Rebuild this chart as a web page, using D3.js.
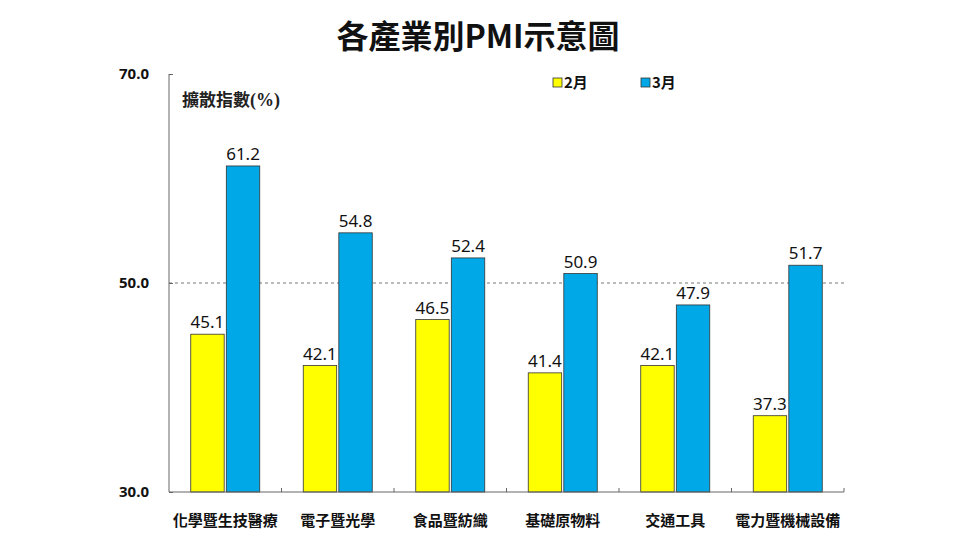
<!DOCTYPE html>
<html>
<head>
<meta charset="utf-8">
<script src="https://cdn.jsdelivr.net/npm/d3@7"></script>
<style>
  body { margin: 0; background: #fff; }
  svg { display: block; }
</style>
</head>
<body>
<svg id="chart" width="960" height="540"></svg>
<script>
// chart data
var categories = ["化學暨生技醫療", "電子暨光學", "食品暨紡織", "基礎原物料", "交通工具", "電力暨機械設備"];
var seriesNames = ["2月", "3月"];
var febValues = [45.1, 42.1, 46.5, 41.4, 42.1, 37.3];
var marValues = [61.2, 54.8, 52.4, 50.9, 47.9, 51.7];
var yTicks = [30, 50, 70];
var colors = ["#ffff00", "#00a8e8"];

var svg = d3.select("#chart");
var cjk = "'Noto Sans CJK TC', 'Noto Sans', sans-serif";

var x0 = d3.scaleBand().domain(categories).range([169, 844]);
var x1 = d3.scaleBand().domain(seriesNames).range([0, 69]).paddingInner(0.06);
var y = d3.scaleLinear().domain([30, 70]).range([492, 74]);

// title
svg.append("text")
  .attr("x", 478).attr("y", 48)
  .attr("text-anchor", "middle")
  .style("font-family", cjk).style("font-size", "32px").style("font-weight", "bold")
  .style("fill", "#111")
  .text("各產業別PMI示意圖");

// dashed 50 line
svg.append("line")
  .attr("x1", x0.range()[0]).attr("x2", x0.range()[1])
  .attr("y1", y(50)).attr("y2", y(50))
  .style("stroke", "#777").style("stroke-width", 1).style("stroke-dasharray", "3,3");

// bars
var groups = svg.selectAll("g.grp").data(categories).enter().append("g")
  .attr("class", "grp")
  .attr("transform", function(d) { return "translate(" + (x0(d) + (x0.bandwidth() - 69) / 2) + ",0)"; });

groups.selectAll("rect").data(function(d, i) {
    return [{s: seriesNames[0], v: febValues[i], c: colors[0]}, {s: seriesNames[1], v: marValues[i], c: colors[1]}];
  }).enter().append("rect")
  .attr("x", function(d) { return x1(d.s); })
  .attr("width", x1.bandwidth())
  .attr("y", function(d) { return y(d.v); })
  .attr("height", function(d) { return y(30) - y(d.v); })
  .style("fill", function(d) { return d.c; })
  .style("stroke", "#333").style("stroke-width", 0.8);

groups.selectAll("text.val").data(function(d, i) {
    return [{s: seriesNames[0], v: febValues[i]}, {s: seriesNames[1], v: marValues[i]}];
  }).enter().append("text")
  .attr("class", "val")
  .attr("x", function(d) { return x1(d.s) + x1.bandwidth() / 2; })
  .attr("y", function(d) { return y(d.v) - 6; })
  .attr("text-anchor", "middle")
  .style("font-family", "'Noto Sans', sans-serif").style("font-size", "17px")
  .style("fill", "#111")
  .text(function(d) { return d.v.toFixed(1); });

// y axis
var yAxis = d3.axisLeft(y).tickValues(yTicks).tickSize(-4).tickPadding(20)
  .tickFormat(function(d) { return d.toFixed(1); });
var yg = svg.append("g").attr("transform", "translate(169,0)").call(yAxis);
yg.select(".domain").attr("d", "M0," + y(70) + "V" + y(30)).style("stroke", "#666");
yg.selectAll(".tick line").style("stroke", "#666");
yg.selectAll(".tick text")
  .style("font-family", "'Noto Sans', sans-serif").style("font-size", "15px").style("font-weight", "bold")
  .style("fill", "#111");

// x axis
var xg = svg.append("g").attr("transform", "translate(0," + y(30) + ")");
xg.append("line").attr("x1", 169).attr("x2", 844).attr("y1", 0).attr("y2", 0).style("stroke", "#666");
xg.selectAll("line.tk").data(categories).enter().append("line")
  .attr("class", "tk")
  .attr("x1", function(d) { return x0(d) + x0.bandwidth(); })
  .attr("x2", function(d) { return x0(d) + x0.bandwidth(); })
  .attr("y1", 0).attr("y2", -4).style("stroke", "#666");
xg.selectAll("text").data(categories).enter().append("text")
  .attr("x", function(d) { return x0(d) + x0.bandwidth() / 2; })
  .attr("y", 34)
  .attr("text-anchor", "middle")
  .style("font-family", cjk).style("font-size", "15px").style("font-weight", "bold")
  .style("fill", "#111")
  .text(function(d) { return d; });

// axis title
var yt = svg.append("text").attr("x", 182).attr("y", 106)
  .style("font-size", "17px").style("font-weight", "bold").style("fill", "#222");
yt.append("tspan").style("font-family", cjk).style("font-weight", "bold").text("擴散指數");
yt.append("tspan").style("font-family", "'Liberation Serif', 'DejaVu Serif', serif")
  .style("font-weight", "bold").style("font-size", "18px").text("(%)");

// legend
var legX = [553, 641];
var leg = svg.selectAll("g.leg").data(seriesNames).enter().append("g")
  .attr("class", "leg")
  .attr("transform", function(d, i) { return "translate(" + legX[i] + ",78)"; });
leg.append("rect").attr("width", 9).attr("height", 9)
  .style("fill", function(d, i) { return colors[i]; })
  .style("stroke", "#333").style("stroke-width", 0.8);
leg.append("text").attr("x", 11).attr("y", 10)
  .style("font-family", cjk).style("font-size", "15px").style("font-weight", "bold")
  .style("fill", "#111")
  .text(function(d) { return d; });
</script>
</body>
</html>
